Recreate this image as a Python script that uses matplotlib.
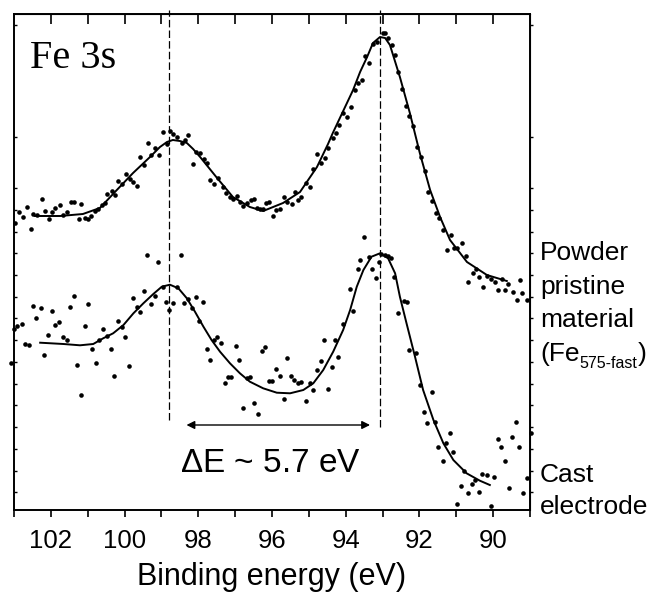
import numpy as np
import matplotlib.pyplot as plt

plt.rcParams['font.family'] = ['Liberation Sans', 'DejaVu Sans']
plt.rcParams['mathtext.fontset'] = 'custom'
plt.rcParams['mathtext.rm'] = 'Liberation Sans'

# ---- data (binding energy in eV, intensity in a.u.) ----
powder_be = [102.97, 102.86, 102.76, 102.66, 102.55, 102.48, 102.37, 102.25, 102.16, 102.05,
             101.98, 101.89, 101.75, 101.66, 101.55, 101.46, 101.37, 101.25, 101.18, 101.07,
             100.98, 100.92, 100.80, 100.71, 100.62, 100.53, 100.47, 100.35, 100.26, 100.17,
             100.08, 99.96, 99.85, 99.76, 99.67, 99.58, 99.47, 99.36, 99.27, 99.18,
             99.06, 98.95, 98.86, 98.77, 98.68, 98.57, 98.45, 98.36, 98.27, 98.15,
             98.05, 97.95, 97.85, 97.77, 97.67, 97.58, 97.46, 97.34, 97.25, 97.14,
             97.05, 96.94, 96.87, 96.78, 96.69, 96.58, 96.49, 96.40, 96.33, 96.24,
             96.15, 96.07, 95.97, 95.88, 95.78, 95.68, 95.59, 95.47, 95.38, 95.29,
             95.20, 95.08, 94.97, 94.88, 94.77, 94.68, 94.56, 94.47, 94.35, 94.26,
             94.17, 94.08, 93.97, 93.87, 93.75, 93.66, 93.57, 93.48, 93.36, 93.25,
             93.16, 92.98, 92.94, 92.84, 92.75, 92.66, 92.57, 92.48, 92.37, 92.27,
             92.17, 92.06, 91.97, 91.85, 91.76, 91.67, 91.55, 91.46, 91.35, 91.26,
             91.15, 91.06, 90.97, 90.84, 90.75, 90.68, 90.56, 90.47, 90.38, 90.27,
             90.18, 90.07, 89.95, 89.86, 89.77, 89.68, 89.59, 89.45, 89.36, 89.27,
             89.23, 89.07]
powder_int = [287.3, 298, 292.7, 303.3, 280.7, 295.7, 295, 311.3, 298.7, 291.3,
              297.7, 301.7, 305, 295, 298, 308, 308, 291.3, 306, 292,
              290.7, 294, 299.3, 301, 305, 306.7, 316, 319.3, 315, 329.3,
              326, 336, 331.3, 328, 324, 353.3, 345.3, 367.3, 355, 361.7,
              355, 377.7, 365.7, 379, 376, 373.3, 367.3, 370, 375, 346,
              358.3, 356.7, 350.7, 346.7, 330, 326, 331.7, 323.3, 317.3, 313.3,
              310.7, 314, 308.3, 304, 307.3, 310, 311, 301.7, 300.7, 300.7,
              306.7, 307.7, 294, 300, 300.7, 313.3, 308.3, 306, 318.3, 310,
              312.7, 326.7, 322.7, 340.7, 356, 346.7, 351.7, 361.7, 371.7, 377.3,
              385, 397.3, 392.7, 403.3, 420, 426.7, 430, 454, 446.7, 466,
              468.3, 476.7, 477.3, 471.7, 465, 455, 438.3, 420.7, 404, 394,
              384, 363.3, 353.3, 339.3, 318.3, 309, 296.7, 291.7, 280, 260,
              275, 261.7, 261.7, 266.7, 254, 228.3, 236.7, 240.7, 233.3, 223.3,
              234, 230.7, 228.3, 220, 230.7, 220, 225.7, 218.3, 210, 230,
              216.7, 210]

powder_fit_be = [102.43, 101.75, 101.13, 100.67, 100.21, 99.77, 99.31, 99.04, 98.85, 98.69,
                 98.50, 98.31, 98.14, 97.95, 97.49, 97.06, 96.60, 96.24, 95.70, 95.24,
                 94.78, 94.48, 94.35, 93.80, 93.61, 93.42, 93.26, 93.07, 92.93, 92.80,
                 92.53, 92.26, 91.99, 91.71, 91.44, 91.17, 90.71, 90.17, 89.63]
powder_fit_int = [294, 294, 296, 302, 320, 337, 353, 363, 368, 370,
                  369, 367, 361, 353, 332, 313, 303, 299, 307, 318,
                  343, 366, 377, 420, 438, 453, 467, 473, 472, 465,
                  433, 397, 357, 320, 293, 270, 248, 235, 229]

cast_be = [103.09, 103.0, 102.91, 102.79, 102.70, 102.58, 102.48, 102.39, 102.28, 102.18,
           102.09, 101.98, 101.89, 101.78, 101.68, 101.57, 101.48, 101.37, 101.28, 101.18,
           101.07, 100.98, 100.88, 100.78, 100.69, 100.58, 100.49, 100.38, 100.28, 100.19,
           100.08, 99.98, 99.89, 99.78, 99.67, 99.58, 99.47, 99.38, 99.28, 99.18,
           99.09, 98.97, 98.88, 98.79, 98.68, 98.59, 98.48, 98.38, 98.27, 98.18,
           98.06, 97.98, 97.88, 97.77, 97.68, 97.58, 97.48, 97.39, 97.28, 97.19,
           97.10, 96.98, 96.89, 96.78, 96.69, 96.60, 96.49, 96.39, 96.28, 96.18,
           96.09, 95.99, 95.89, 95.78, 95.68, 95.59, 95.49, 95.39, 95.29, 95.20,
           95.08, 94.98, 94.88, 94.79, 94.68, 94.58, 94.47, 94.38, 94.29, 94.20,
           94.08, 93.88, 93.79, 93.68, 93.60, 93.50, 93.36, 93.30, 93.18, 93.09,
           93.03, 92.93, 92.84, 92.78, 92.69, 92.57, 92.42, 92.35, 92.27, 92.09,
           91.99, 91.88, 91.79, 91.67, 91.58, 91.49, 91.37, 91.28, 91.17, 91.08,
           90.97, 90.88, 90.78, 90.68, 90.58, 90.49, 90.38, 90.29, 90.18, 90.07,
           89.98, 89.88, 89.79, 89.68, 89.57, 89.48, 89.38, 89.29, 89.18, 89.07,
           88.98]
cast_int = [146.7, 180.7, 184, 186, 166, 165.3, 204, 191.7, 201.7, 154.7,
            175.3, 199, 185, 188.3, 172.7, 170, 202.7, 214.3, 144.7, 114.7,
            184.3, 206, 161.3, 147.3, 170, 181, 174, 160.7, 134, 189,
            182.7, 172.7, 143.7, 211.7, 202.7, 198, 218.7, 255, 206, 214,
            248.3, 222.7, 208.3, 200, 206.7, 222.7, 254.7, 207.3, 210.7, 201.7,
            212.7, 189, 207.7, 161.3, 149.7, 170, 172.7, 166.7, 126.7, 133.3,
            133, 164, 149.7, 102.3, 131.7, 132.7, 106.7, 96, 159.3, 162.7,
            129, 129, 140.7, 134, 111, 152, 134.3, 130.3, 127.3, 127.7,
            109.3, 127.3, 120, 140, 149.3, 170, 120.7, 143.3, 170, 153.3,
            186, 220.7, 199, 240.7, 250, 273.3, 252.7, 240.7, 231.7, 248.3,
            256, 255, 254, 251.7, 233.3, 197.3, 209, 208.3, 160, 156.7,
            125, 97.7, 86.7, 118.3, 88.3, 62.7, 49.3, 67.3, 77.3, 57.7,
            6, 24, 39.3, 17.3, 26, 30, 18.3, 36, 35, 4,
            32.7, 70.7, 63.3, 49.3, 21.7, 73.3, 88.3, 63.3, 16.7, 31.7,
            77.3]

cast_fit_be = [102.29, 101.66, 101.21, 100.85, 100.58, 100.31, 100.03, 99.76, 99.49, 99.22,
               98.99, 98.77, 98.54, 98.31, 98.09, 97.86, 97.64, 97.41, 97.14, 96.87,
               96.60, 96.24, 95.87, 95.51, 95.15, 94.88, 94.61, 94.34, 94.07, 93.88,
               93.70, 93.52, 93.30, 93.07, 92.85, 92.66, 92.53, 92.35, 92.12, 91.90,
               91.62, 91.35, 91.08, 90.72, 90.36, 90.09]
cast_fit_int = [167.3, 166, 164.7, 166, 171.7, 176.7, 185, 196.7, 206.7, 216,
                223.3, 225.3, 221.7, 211.7, 198.3, 183.3, 170, 158.3, 146.7, 136.7,
                128.3, 121.7, 117.3, 116.7, 120, 126.7, 140, 158.3, 180, 200,
                223.3, 240, 253.3, 256.7, 251.7, 236.7, 213.3, 186.7, 153.3, 120,
                90, 66.7, 50, 36.7, 29.3, 25]

peak_positions = [98.8, 93.07]     # dashed markers
peak_line_bottom = [90, 83]
delta_e = 5.7
arrow_from, arrow_to, arrow_y = 98.32, 93.34, 85
y_ticks = [485, 373, 322, 300, 278, 257, 235, 213, 192, 170, 148, 126, 105, 83, 61, 39, 18]

W, H = 647, 592
fig = plt.figure(figsize=(W / 100, H / 100), dpi=100)
ax = fig.add_axes([14 / W, 1 - 510 / H, 516 / W, 496 / H])
ax.set_xlim(103, 89)
ax.set_ylim(0, 496)

ax.plot(powder_be, powder_int, 'o', color='black', ms=3.3, mew=0, clip_on=False)
ax.plot(cast_be, cast_int, 'o', color='black', ms=3.3, mew=0, clip_on=False)
ax.plot(powder_fit_be, powder_fit_int, color='black', lw=1.4)
ax.plot(cast_fit_be, cast_fit_int, color='black', lw=1.4)

for xp, yb in zip(peak_positions, peak_line_bottom):
    ax.plot([xp, xp], [yb, 500], color='black', lw=0.9, ls=(0, (6, 2.5)), clip_on=False)

ax.annotate('', xy=(arrow_to, arrow_y), xytext=(arrow_from, arrow_y),
            arrowprops=dict(arrowstyle='<|-|>', color='black', lw=1.0,
                            mutation_scale=12, shrinkA=0, shrinkB=0))
ax.text(96.05, 38, r'$\Delta$E ~ %.1f eV' % delta_e, fontsize=24, ha='center', va='baseline')

ax.text(0.031, 0.891, 'Fe 3s', transform=ax.transAxes, fontsize=29,
        family='Liberation Serif', va='baseline', ha='left')

# axis styling
for sp in ax.spines.values():
    sp.set_linewidth(1.4)
ax.set_xticks([102, 100, 98, 96, 94, 92, 90])
ax.set_xticks(np.arange(89, 104), minor=True)
ax.tick_params(axis='x', which='both', direction='out', length=5, width=1.2,
               labelsize=18.5, pad=8.5)
ax.set_yticks(y_ticks)
ax.set_yticklabels([])
ax.tick_params(axis='y', which='both', direction='in', length=2.5, width=1.0)
ax.set_xlabel('Binding energy (eV)', fontsize=22, labelpad=7)

top = ax.secondary_xaxis('top')
top.set_xticks(np.arange(90, 103))
top.tick_params(direction='in', length=7, width=1.2, labeltop=False)
right = ax.secondary_yaxis('right')
right.set_yticks(y_ticks)
right.tick_params(direction='out', length=2.5, width=1.0, labelright=False)

# sample labels outside the axes
lab_x = 540 / W
for txt, py in [('Powder', 260), ('pristine', 294), ('material', 327),
                ('Cast', 482), ('electrode', 514)]:
    fig.text(lab_x, 1 - py / H, txt, fontsize=19, va='baseline', ha='left')

# "(Fe_575-fast)" built from pieces so the subscript stays small
renderer = fig.canvas.get_renderer()
t1 = fig.text(lab_x, 1 - 361 / H, '(Fe', fontsize=19, va='baseline', ha='left')
x1 = t1.get_window_extent(renderer).x1
t2 = fig.text(x1 / W, 1 - 368 / H, '575-fast', fontsize=11.5, va='baseline', ha='left')
x2 = t2.get_window_extent(renderer).x1
fig.text(x2 / W, 1 - 361 / H, ')', fontsize=19, va='baseline', ha='left')

fig.savefig('out.png', dpi=100)
